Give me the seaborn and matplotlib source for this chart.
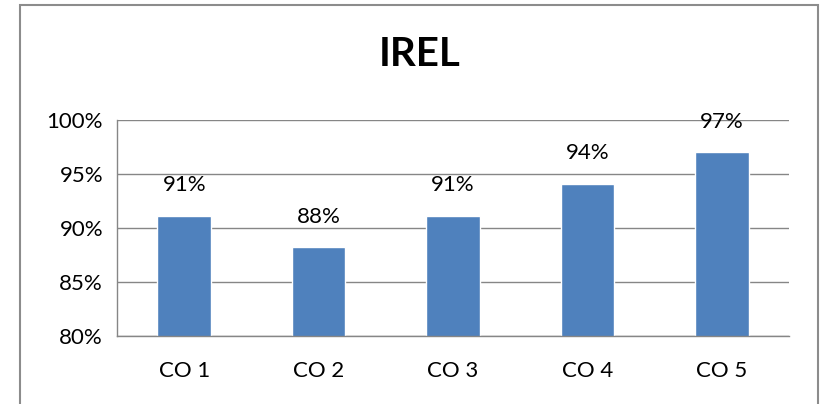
import matplotlib
matplotlib.use('Agg')
import matplotlib.pyplot as plt
import seaborn as sns
import pandas as pd
from matplotlib.patches import Rectangle
from matplotlib.ticker import FuncFormatter, FixedLocator

# === DỮ LIỆU ===
categories = ['CO 1', 'CO 2', 'CO 3', 'CO 4', 'CO 5']
values = [91.1, 88.2, 91.1, 94.1, 97.0]
labels = ['91%', '88%', '91%', '94%', '97%']

df = pd.DataFrame({'CO': categories, 'Value': values})

sns.set_style('white')
plt.rcParams['font.family'] = ['Lato', 'DejaVu Sans']
plt.rcParams['text.color'] = 'black'
plt.rcParams['xtick.labelcolor'] = 'black'
plt.rcParams['ytick.labelcolor'] = 'black'

fig = plt.figure(figsize=(8.23, 4.04), dpi=100)
ax = fig.add_axes([117 / 823, 68 / 404, 672 / 823, 216 / 404])

sns.barplot(data=df, x='CO', y='Value', color='#4F81BD', width=0.4,
            saturation=1, ax=ax)

ax.set_ylim(80, 100)
ax.set_xlim(-0.5, 4.5)
ax.set_yticks([80, 85, 90, 95, 100])
ax.yaxis.set_major_formatter(FuncFormatter(lambda v, p: f'{v:.0f}%'))
ax.grid(axis='y', color='#868686', linewidth=1)
ax.set_axisbelow(True)

for s in ['top', 'right']:
    ax.spines[s].set_visible(False)
for s in ['left', 'bottom']:
    ax.spines[s].set_color('#868686')
    ax.spines[s].set_linewidth(1)

ax.xaxis.set_minor_locator(FixedLocator([-0.5, 0.5, 1.5, 2.5, 3.5, 4.5]))
ax.tick_params(axis='x', which='major', length=0, pad=18, labelsize=16)
ax.tick_params(axis='x', which='minor', length=8, width=1, color='#868686', direction='out')
ax.tick_params(axis='y', length=7, width=1, color='#868686', direction='out', labelsize=16, pad=3)
ax.set_xlabel('')
ax.set_ylabel('')

for i, (v, lab) in enumerate(zip(values, labels)):
    ax.annotate(lab, (i, v), xytext=(0, 15), textcoords='offset points',
                ha='center', va='bottom', fontsize=16, annotation_clip=False)

fig.suptitle('IREL', x=420 / 823, y=1 - 55 / 404, va='center',
             fontsize=29, fontweight='bold')

# khung viền bên ngoài
fig.patches.append(Rectangle((20 / 823, -0.05), 798 / 823, 1.05 - 5 / 404,
                             transform=fig.transFigure, fill=False,
                             edgecolor='#8c8c8c', linewidth=1.5))

fig.savefig('out.png', dpi=100)
